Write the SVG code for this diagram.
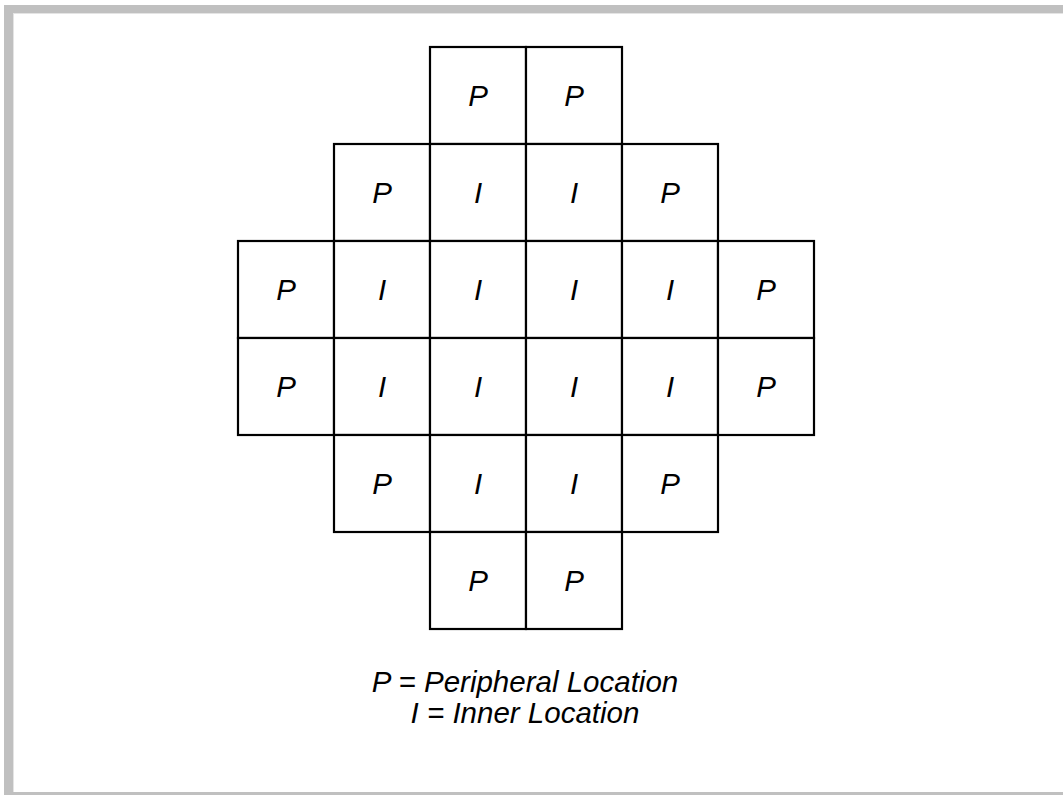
<svg xmlns="http://www.w3.org/2000/svg" width="1063" height="795" viewBox="0 0 1063 795">
<style>
.frame{fill:#c0c0c0}
.cell rect{fill:#ffffff;stroke:#000000;stroke-width:2.2}
.cell text,.legend{font-family:"Liberation Sans",Arial,sans-serif;font-style:italic;font-size:29.5px;fill:#000000;text-anchor:middle}
</style>
<rect width="1063" height="795" fill="#ffffff"/>
<g id="frame">
<rect class="frame" x="4" y="5" width="1059" height="8"/>
<rect class="frame" x="4" y="5" width="9" height="790"/>
<rect class="frame" x="4" y="792" width="1059" height="3"/>
<rect x="13" y="13" width="1050" height="1" fill="#e4e4e4"/>
<rect x="13" y="13" width="1" height="779" fill="#e4e4e4"/>
</g>
<g id="cell-r1c3" class="cell"><rect x="430" y="47" width="96" height="97"/><text x="478" y="106">P</text></g>
<g id="cell-r1c4" class="cell"><rect x="526" y="47" width="96" height="97"/><text x="574" y="106">P</text></g>
<g id="cell-r2c2" class="cell"><rect x="334" y="144" width="96" height="97"/><text x="382" y="203">P</text></g>
<g id="cell-r2c3" class="cell"><rect x="430" y="144" width="96" height="97"/><text x="478" y="203">I</text></g>
<g id="cell-r2c4" class="cell"><rect x="526" y="144" width="96" height="97"/><text x="574" y="203">I</text></g>
<g id="cell-r2c5" class="cell"><rect x="622" y="144" width="96" height="97"/><text x="670" y="203">P</text></g>
<g id="cell-r3c1" class="cell"><rect x="238" y="241" width="96" height="97"/><text x="286" y="300">P</text></g>
<g id="cell-r3c2" class="cell"><rect x="334" y="241" width="96" height="97"/><text x="382" y="300">I</text></g>
<g id="cell-r3c3" class="cell"><rect x="430" y="241" width="96" height="97"/><text x="478" y="300">I</text></g>
<g id="cell-r3c4" class="cell"><rect x="526" y="241" width="96" height="97"/><text x="574" y="300">I</text></g>
<g id="cell-r3c5" class="cell"><rect x="622" y="241" width="96" height="97"/><text x="670" y="300">I</text></g>
<g id="cell-r3c6" class="cell"><rect x="718" y="241" width="96" height="97"/><text x="766" y="300">P</text></g>
<g id="cell-r4c1" class="cell"><rect x="238" y="338" width="96" height="97"/><text x="286" y="397">P</text></g>
<g id="cell-r4c2" class="cell"><rect x="334" y="338" width="96" height="97"/><text x="382" y="397">I</text></g>
<g id="cell-r4c3" class="cell"><rect x="430" y="338" width="96" height="97"/><text x="478" y="397">I</text></g>
<g id="cell-r4c4" class="cell"><rect x="526" y="338" width="96" height="97"/><text x="574" y="397">I</text></g>
<g id="cell-r4c5" class="cell"><rect x="622" y="338" width="96" height="97"/><text x="670" y="397">I</text></g>
<g id="cell-r4c6" class="cell"><rect x="718" y="338" width="96" height="97"/><text x="766" y="397">P</text></g>
<g id="cell-r5c2" class="cell"><rect x="334" y="435" width="96" height="97"/><text x="382" y="494">P</text></g>
<g id="cell-r5c3" class="cell"><rect x="430" y="435" width="96" height="97"/><text x="478" y="494">I</text></g>
<g id="cell-r5c4" class="cell"><rect x="526" y="435" width="96" height="97"/><text x="574" y="494">I</text></g>
<g id="cell-r5c5" class="cell"><rect x="622" y="435" width="96" height="97"/><text x="670" y="494">P</text></g>
<g id="cell-r6c3" class="cell"><rect x="430" y="532" width="96" height="97"/><text x="478" y="591">P</text></g>
<g id="cell-r6c4" class="cell"><rect x="526" y="532" width="96" height="97"/><text x="574" y="591">P</text></g>
<g id="connectors"></g>
<g id="legend">
<text class="legend" x="525" y="692">P = Peripheral Location</text>
<text class="legend" x="525" y="723">I = Inner Location</text>
</g>
</svg>
